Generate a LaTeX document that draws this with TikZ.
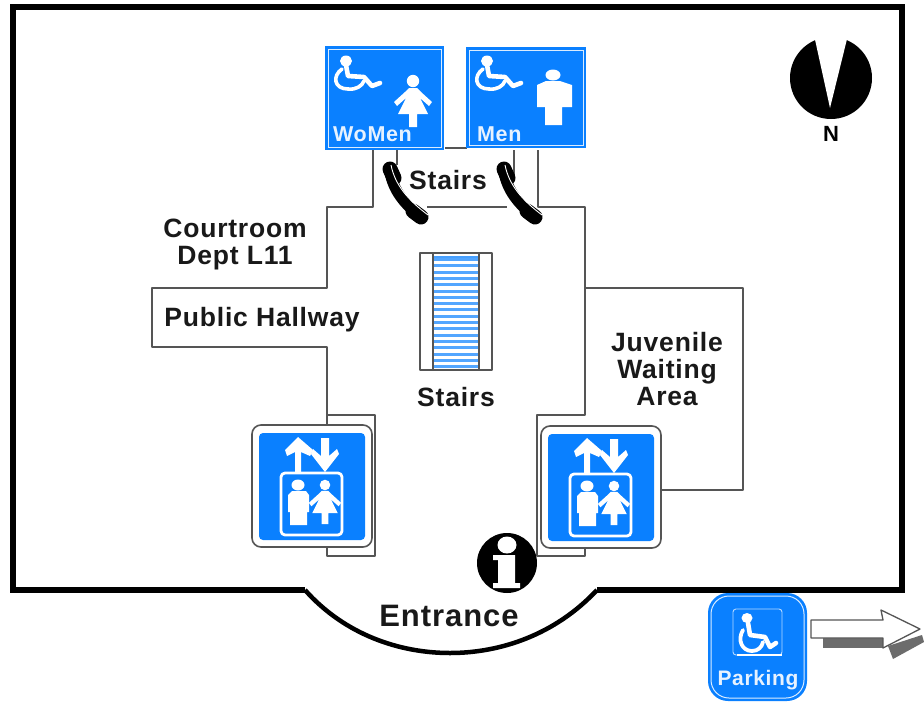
\documentclass[tikz,border=0pt]{standalone}
\usepackage{fontspec}
\setmainfont{Liberation Sans}[LetterSpace=3.0]
\definecolor{signblue}{HTML}{0A80FF}
\definecolor{wallgray}{HTML}{555555}
\tikzset{
  wall/.style={draw=wallgray,line width=1.4pt,line join=round},
  outer/.style={draw=black,line width=5.5pt,line join=miter},
  lab/.style={font=\bfseries\fontsize{26.5}{27}\selectfont,text=black!90,align=center,inner sep=0pt},
  signtext/.style={font=\bfseries\fontsize{21.5}{22}\selectfont,text=white!90!signblue,inner sep=0pt},
  inset/.style={draw=white!85!signblue,line width=1pt},
  wht/.style={draw=white,line cap=round,line join=round},
}
\newcommand{\wheelchairicon}[1]{%
  \begin{scope}[shift={(#1)}]
    \fill[white] (10,5) ellipse[x radius=6,y radius=5.5];
    \draw[wht,line width=4.6pt] (10,9) -- (12,20) -- (28,21) -- (36,30) -- (44,27);
    \draw[wht,line width=3.6pt] (6,13) .. controls (-4,20) and (-2,33) .. (12,33)
       .. controls (20,34) and (26,30) .. (28,25);
  \end{scope}}
\newcommand{\womanicon}[2]{%
  \begin{scope}[shift={(#1)},scale=#2]
    \fill[white] (0,0) circle[radius=6.2];
    \fill[white] (-4,7) -- (4,7) -- (8,11) -- (19,21) -- (16,25) -- (7,17) -- (15,33)
      -- (4,33) -- (4,46) -- (-4,46) -- (-4,33) -- (-15,33) -- (-7,17) -- (-16,25) -- (-19,21) -- (-8,11) -- cycle;
  \end{scope}}
\newcommand{\elevatorsign}[1]{%
  \begin{scope}[shift={(#1)}]
    \draw[draw=wallgray,line width=1.6pt,fill=white,rounded corners=9pt] (252,425) rectangle (372,547);
    \fill[signblue,rounded corners=4pt] (259,433) rectangle (365,540);
    \draw[wht,line width=2.8pt,rounded corners=4pt] (281,473) rectangle (342,535);
    \fill[white] (295,473) -- (295,452) -- (287,456) -- (285,450) -- (298,437) -- (313,450) -- (310,456) -- (301,452) -- (301,473) -- cycle;
    \fill[white] (321,438) -- (329,438) -- (329,456) -- (337,449) -- (339,454) -- (325,472) -- (311,454) -- (313,449) -- (321,456) -- cycle;
    \fill[white] (298,485) ellipse[x radius=6.5,y radius=5.5];
    \fill[white] (292,491) -- (306,491) -- (309,495) -- (309,512) -- (307,512) -- (307,525) -- (290,525) -- (290,512) -- (288,512) -- (288,495) -- cycle;
    \womanicon{325,485}{0.85}
  \end{scope}}
\newcommand{\phoneicon}[1]{%
  \begin{scope}[shift={(#1)}]
    \draw[black,line width=11pt] (390,172) .. controls (393,190) and (405,205) .. (420,216);
    \draw[black,line width=15pt,line cap=round] (390,169) -- (394,178);
    \draw[black,line width=15pt,line cap=round] (413,211) -- (421,217);
    \draw[white,line width=.9pt] (391,165) .. controls (395,185) and (408,200) .. (428,215);
  \end{scope}}
\begin{document}
\begin{tikzpicture}[x=1pt,y=-1pt]
\useasboundingbox (0,0) rectangle (924,702);
\fill[white] (0,0) rectangle (924,702);

% building shell
\draw[outer] (305,590) -- (13,590) -- (13,7) -- (902,7) -- (902,590) -- (597,590);
\draw[draw=black,line width=4.5pt] (305,590) .. controls (345,635) and (400,653) .. (450,653)
   .. controls (500,653) and (555,635) .. (597,590);

% interior walls
\draw[wall] (373,148) -- (373,207) -- (327,207) -- (327,288) -- (152,288) -- (152,347) -- (327,347) -- (327,556) -- (375,556) -- (375,415) -- (327,415);
\draw[wall] (397,150) -- (397,165);
\draw[wall] (445,148) -- (467,148);
\draw[wall] (427,207) -- (507,207);
\draw[wall] (514,150) -- (514,180);
\draw[wall] (538,150) -- (538,207) -- (585,207) -- (585,415) -- (537,415) -- (537,556) -- (585,556) -- (585,546);
\draw[wall] (585,288) -- (743,288) -- (743,490) -- (660,490);

% stairs
\fill[signblue!75] (433,256) rectangle (479,258);
\foreach \y in {258,264.3,...,368} {\fill[signblue!70] (433,\y) rectangle (479,\y+3);}
\draw[wall] (420,253) rectangle (492,370);
\draw[wall] (433,253) -- (433,370) (479,253) -- (479,370);

% restroom signs
\fill[signblue] (325,46) rectangle (444,150);
\draw[inset] (328,49) rectangle (441,147);
\wheelchairicon{336,56}
\womanicon{413,81}{1}
\node[signtext,anchor=base west] (women) at (333,141) {WoMen};
\fill[signblue] (466,47) rectangle (586,148);
\draw[inset] (469,50) rectangle (583,145);
\wheelchairicon{477,56}
\fill[white] (553,75) ellipse[x radius=7.5,y radius=5.5];
\fill[white] (546,81) -- (560,81) -- (572,85) -- (572,107) -- (562,107) -- (562,125) -- (545,125) -- (545,107) -- (537,107) -- (537,85) -- cycle;
\node[signtext,anchor=base west] (men) at (477,141) {Men};

% telephones
\phoneicon{0,0}
\phoneicon{114,0}

% elevators
\elevatorsign{0,0}
\elevatorsign{289,1}

% north marker
\fill[black] (831,78) circle[radius=41];
\fill[white] (830,108) -- (814,35) -- (848,35) -- cycle;
\node[font=\bfseries\fontsize{22}{24}\selectfont,inner sep=0pt] (north) at (831,134) {N};

% information marker
\fill[black] (507,563) circle[radius=30];
\fill[white] (507,545) ellipse[x radius=9.5,y radius=8.5];
\fill[white] (493,555) -- (515,555) -- (515,583) -- (520,583) -- (520,588) -- (493,588) -- (493,583) -- (498,583) -- (498,560) -- (493,560) -- cycle;

% parking
\fill[signblue,rounded corners=20pt] (708,593) rectangle (807,701);
\draw[inset,rounded corners=18pt] (711,596) rectangle (804,698);
\draw[white!70!signblue,line width=.9pt,rounded corners=3pt] (733,609) rectangle (782,655);
\fill[white] (747,618) ellipse[x radius=5.5,y radius=5];
\draw[wht,line width=4.6pt] (748,623) -- (750,635) -- (765,637) -- (770,647) -- (776,643);
\draw[wht,line width=3.8pt] (743,630) .. controls (737,640) and (742,651) .. (752,651) .. controls (758,651) and (762,647) .. (763,642);
\draw[white,line width=1.4pt] (737,655) -- (782,655);
\node[signtext,font=\bfseries\fontsize{21}{22}\selectfont] (parking) at (758,680) {Parking};

% arrow
\fill[gray!85!black] (823,638) rectangle (883,648);
\fill[gray!85!black] (888,646) -- (922,635) -- (924,642) -- (893,659) -- cycle;
\draw[draw=wallgray,line width=1.3pt,fill=white,line join=round] (811,620) -- (883,620) -- (881,610) -- (920,629) -- (883,648) -- (883,638) -- (811,638) -- cycle;

% labels
\node[lab] (stairsTop) at (448,180) {Stairs};
\node[lab] (court) at (235,244.5) {Courtroom\\[0.5pt]Dept L11};
\node[lab] (hall) at (262,320) {Public Hallway};
\node[lab] (stairsMid) at (456,397) {Stairs};
\node[lab] (juv) at (667,369.5) {Juvenile\\[0pt]Waiting\\[0pt]Area};
\node[lab,font=\bfseries\fontsize{31}{30}\selectfont] (entrance) at (449,616) {Entrance};
\end{tikzpicture}
\end{document}
